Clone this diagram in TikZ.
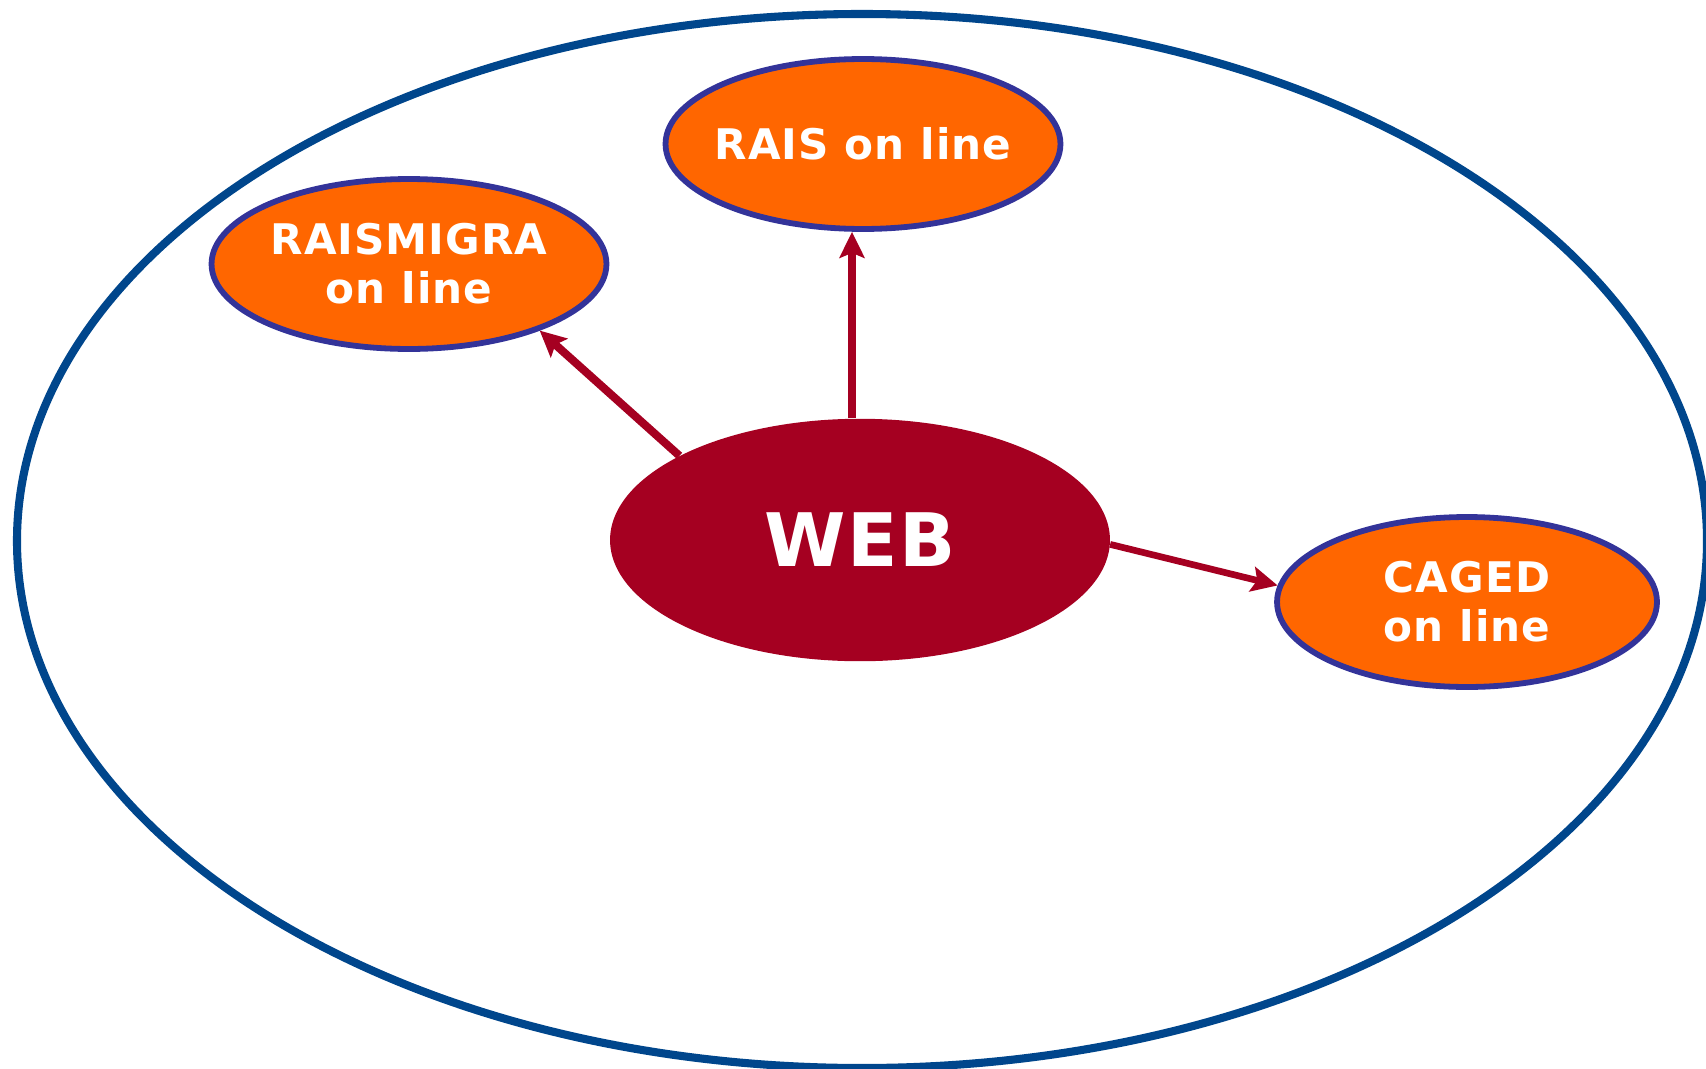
\documentclass[tikz,border=0pt]{standalone}
\usepackage{fontspec}
\setmainfont{DejaVu Sans}[LetterSpace=2.5]
\usepackage{tikz}
\usetikzlibrary{arrows.meta, shapes.geometric}

\definecolor{ringblue}{HTML}{00468C}
\definecolor{rimblue}{HTML}{333399}
\definecolor{sysorange}{HTML}{FF6600}
\definecolor{webred}{HTML}{A50021}

\tikzset{
    sysnode/.style={ellipse, draw=rimblue, line width=3.3pt, fill=sysorange,
        text=white, font=\bfseries\fontsize{24}{28}\selectfont, align=center,
        inner xsep=-1.5cm, inner ysep=0pt, minimum width=7.9cm, minimum height=3.4cm},
    webnode/.style={ellipse, fill=webred, text=white,
        font=\bfseries\fontsize{42}{50}\selectfont, inner sep=0pt,
        minimum width=10cm, minimum height=4.85cm},
    link/.style={webred, line width=4.6pt, -{Stealth[length=5.2mm, width=5mm, inset=1mm]}}
}

\begin{document}
\begin{tikzpicture}[x=0.02cm, y=-0.02cm]
    % Page frame
    \useasboundingbox (0,0) rectangle (1706,1068);

    % Outer ring
    \draw[ringblue, line width=4.6pt] (862,541) ellipse [x radius=845, y radius=527];

    % Central node
    \node[webnode] (web) at (860,540) {WEB};

    % Online systems
    \node[sysnode] (rais) at (863,144) {RAIS on line};
    \node[sysnode] (raismigra) at (409,264) {RAISMIGRA\\on line};
    \node[sysnode, minimum width=7.6cm] (caged) at (1467,602) {CAGED\\on line};

    % Links from the web
    \draw[link] ([xshift=-0.16cm]web.north) -- ([xshift=-0.16cm]web.north |- rais.south);
    \draw[link] (web.155) -- (raismigra.-27);
    \draw[link, line width=3.8pt] (web.-1) -- (caged.175);
\end{tikzpicture}
\end{document}
